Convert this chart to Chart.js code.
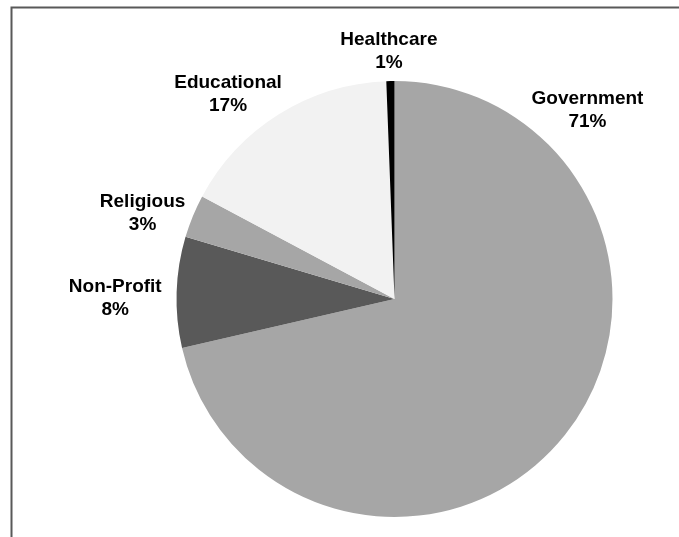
<!DOCTYPE html>
<html>
<head>
<meta charset="utf-8">
<script src="https://cdn.jsdelivr.net/npm/chart.js@4/dist/chart.umd.min.js"></script>
<style>
  html, body { margin: 0; padding: 0; background: #ffffff; }
  #wrap { position: relative; width: 679px; height: 537px; }
</style>
</head>
<body>
<div id="wrap"><canvas id="c" width="679" height="537"></canvas></div>
<script>
// ---- data ----
const categories = ["Government", "Non-Profit", "Religious", "Educational", "Healthcare"];
const shares = [71.4, 8.2, 3.2, 16.6, 0.6];
const percentLabels = ["71%", "8%", "3%", "17%", "1%"];
const sliceColors = ["#a6a6a6", "#595959", "#a6a6a6", "#f2f2f2", "#000000"];

// label anchors: angle (deg, clockwise from 12 o'clock) and distance as a multiple of the pie radius
const labelAngles = [45.6, 270.2, 288.7, 320.95, 358.7];
const labelDist = [1.239, 1.281, 1.220, 1.212, 1.136];

const frameAndLabels = {
  id: 'frameAndLabels',
  beforeDraw(chart) {
    const ctx = chart.ctx;
    ctx.save();
    ctx.strokeStyle = '#595959';
    ctx.lineWidth = 2;
    ctx.beginPath();
    ctx.moveTo(11.5, 537);
    ctx.lineTo(11.5, 7.5);
    ctx.lineTo(679, 7.5);
    ctx.stroke();
    ctx.restore();
  },
  afterDraw(chart) {
    const ctx = chart.ctx;
    const arc0 = chart.getDatasetMeta(0).data[0];
    const cx = arc0.x, cy = arc0.y, r = arc0.outerRadius;
    ctx.save();
    ctx.fillStyle = '#000000';
    ctx.font = 'bold 19px "Liberation Sans", Arial, sans-serif';
    ctx.textAlign = 'center';
    ctx.textBaseline = 'middle';
    categories.forEach((name, i) => {
      const a = labelAngles[i] * Math.PI / 180;
      const x = cx + Math.sin(a) * r * labelDist[i];
      const y = cy - Math.cos(a) * r * labelDist[i];
      ctx.fillText(name, x, y - 11.5);
      ctx.fillText(percentLabels[i], x, y + 11.5);
    });
    ctx.restore();
  }
};

new Chart(document.getElementById('c'), {
  type: 'pie',
  data: {
    labels: categories,
    datasets: [{
      data: shares,
      backgroundColor: sliceColors,
      borderWidth: 0
    }]
  },
  options: {
    responsive: false,
    animation: false,
    layout: { padding: { left: 176.5, right: 66.5, top: 81, bottom: 20 } },
    plugins: {
      legend: { display: false },
      tooltip: { enabled: false }
    }
  },
  plugins: [frameAndLabels]
});
</script>
</body>
</html>
